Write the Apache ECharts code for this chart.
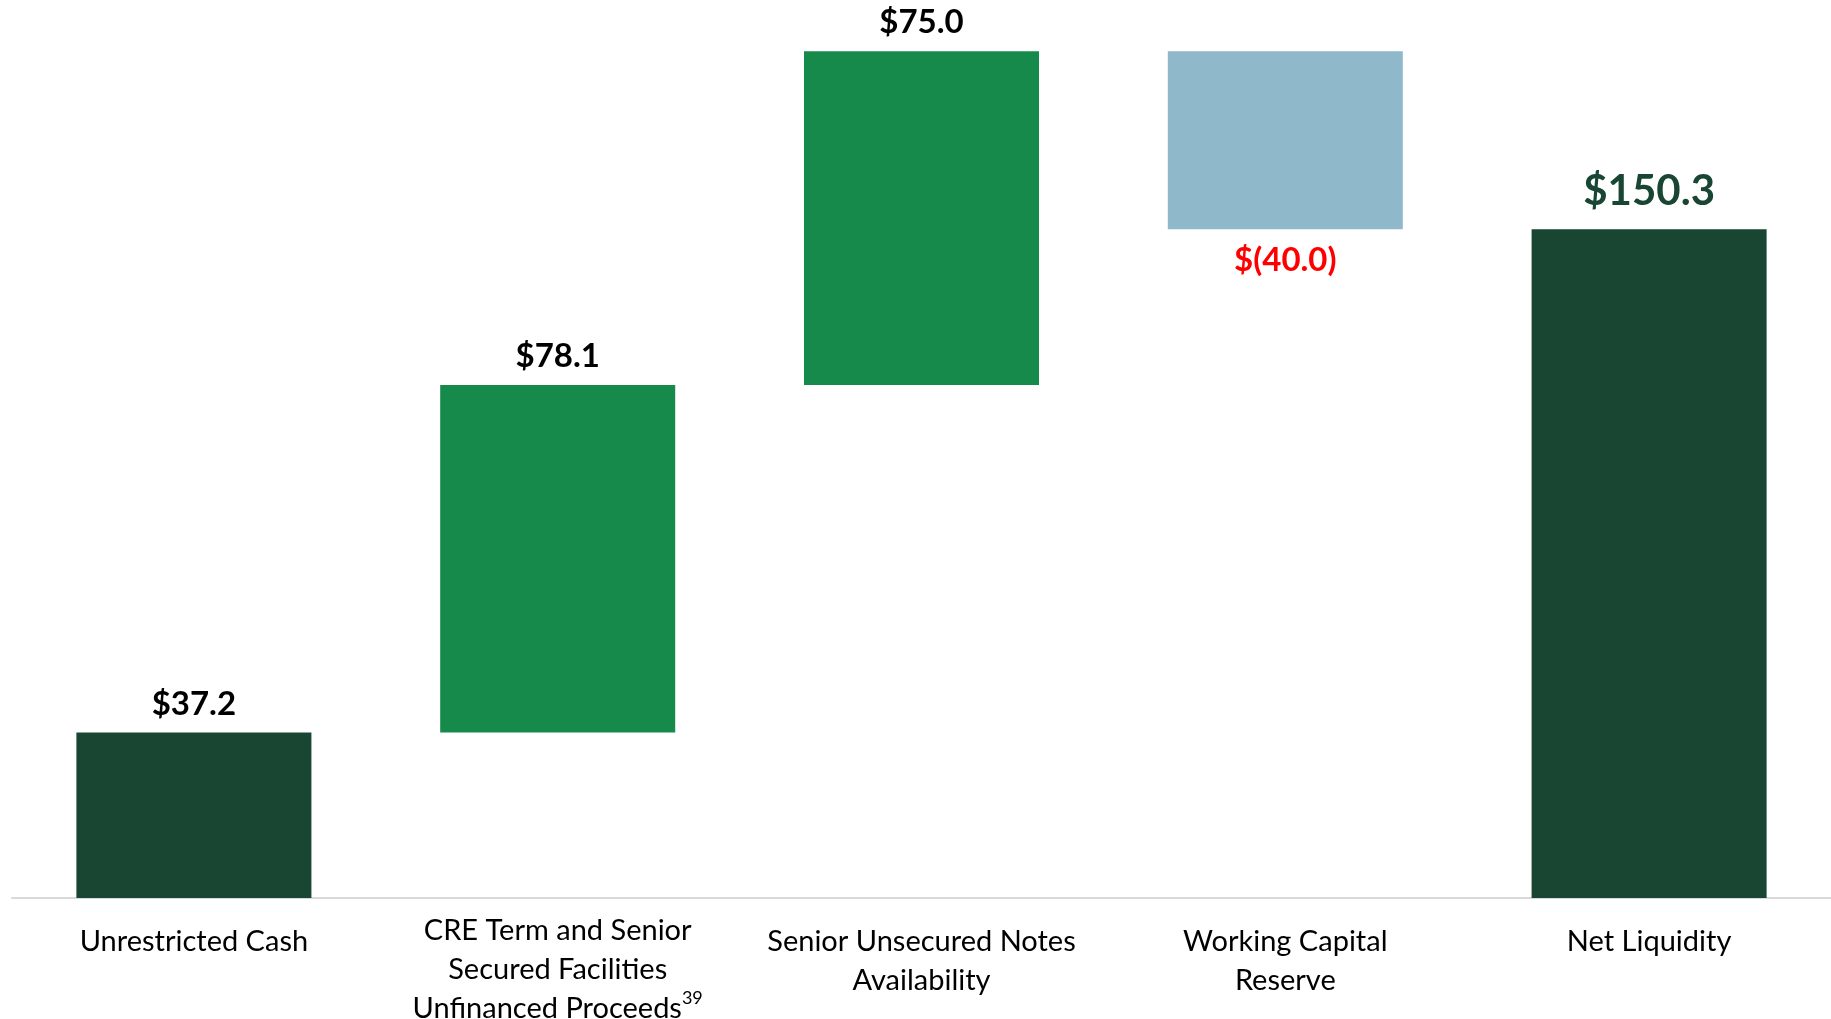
<!DOCTYPE html>
<html>
<head>
<meta charset="utf-8">
<script src="https://cdn.jsdelivr.net/npm/echarts@6/dist/echarts.min.js"></script>
<style>
html,body{margin:0;padding:0;background:#fff;}
#c{width:1831px;height:1019px;}
</style>
</head>
<body>
<div id="c"></div>
<script>
var categories = ['Unrestricted Cash', 'CRE Term and Senior\nSecured Facilities\nUnfinanced Proceeds{sup|39}', 'Senior Unsecured Notes\nAvailability', 'Working Capital\nReserve', 'Net Liquidity'];
var changes = [37.2, 78.1, 75.0, -40.0, 150.3];
var isTotal = [true, false, false, false, true];
var valueLabels = ['$37.2', '$78.1', '$75.0', '$(40.0)', '$150.3'];

var colors = {total: '#184632', up: '#168a4a', down: '#8fb8ca'};

// waterfall composition: invisible base + visible segment
var baseData = [], barData = [];
var running = 0;
for (var i = 0; i < changes.length; i++) {
  var v = changes[i];
  if (isTotal[i]) {
    baseData.push(0);
    barData.push(v);
    running = v;
  } else if (v >= 0) {
    baseData.push(running);
    barData.push(v);
    running += v;
  } else {
    running += v;
    baseData.push(running);
    barData.push(-v);
  }
}

var FONT = 'Lato';
var barItems = barData.map(function (v, i) {
  var color = isTotal[i] ? colors.total : (changes[i] >= 0 ? colors.up : colors.down);
  var neg = changes[i] < 0;
  var last = i === changes.length - 1;
  return {
    value: v,
    itemStyle: {color: color},
    label: {
      show: true,
      position: neg ? 'bottom' : 'top',
      distance: neg ? 15 : (last ? 17 : 12),
      formatter: valueLabels[i],
      color: neg ? '#ff0000' : (last ? colors.total : '#000000'),
      fontSize: last ? 42 : 33,
      fontWeight: 'bold',
      fontFamily: FONT
    }
  };
});

var chart = echarts.init(document.getElementById('c'), null, {renderer: 'canvas'});
chart.setOption({
  animation: false,
  backgroundColor: '#ffffff',
  grid: {left: 12, right: 0, top: 8, bottom: 121, containLabel: false, outerBoundsMode: 'none'},
  xAxis: {
    type: 'category',
    data: categories.map(function (c, i) {
      return i === 1 ? c : {value: c, textStyle: {padding: [11, 0, 0, 0]}};
    }),
    axisLine: {lineStyle: {color: '#d9d9d9', width: 2}},
    axisTick: {show: false},
    axisLabel: {
      interval: 0,
      margin: 13,
      verticalAlign: 'top',
      color: '#000000',
      fontSize: 29,
      lineHeight: 39,
      fontFamily: FONT,
      rich: {
        sup: {fontSize: 18, verticalAlign: 'top', lineHeight: 39, padding: [0, 0, 14, 0], color: '#000', fontFamily: FONT}
      }
    }
  },
  yAxis: {
    type: 'value',
    min: 0,
    max: 200,
    show: false,
    splitLine: {show: false}
  },
  series: [
    {
      type: 'bar',
      stack: 'w',
      data: baseData,
      itemStyle: {color: 'transparent'},
      silent: true,
      barCategoryGap: '35.4%'
    },
    {
      type: 'bar',
      stack: 'w',
      data: barItems,
      barCategoryGap: '35.4%'
    }
  ]
});
</script>
</body>
</html>
